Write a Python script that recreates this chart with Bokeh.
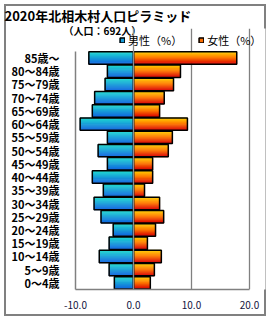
import numpy as np
from bokeh.plotting import figure
from bokeh.models import (FixedTicker, Grid, Legend, LegendItem, Title,
                          NumeralTickFormatter, Range1d)
from bokeh.embed import file_html
from bokeh.resources import INLINE

# ---- data (percent of each sex) ----
age_groups = ["0～4歳", "5～9歳", "10～14歳", "15～19歳", "20～24歳", "25～29歳",
              "30～34歳", "35～39歳", "40～44歳", "45～49歳", "50～54歳", "55～59歳",
              "60～64歳", "65～69歳", "70～74歳", "75～79歳", "80～84歳", "85歳～"]
male_pct = [3.3, 4.2, 5.9, 4.2, 3.5, 5.6, 6.8, 5.2, 7.1, 4.5, 6.1, 4.5,
            9.2, 7.1, 6.7, 4.9, 4.5, 7.7]
female_pct = [2.9, 3.6, 4.8, 2.4, 3.8, 5.2, 4.5, 1.9, 3.3, 3.3, 6.0, 6.7,
              9.3, 4.5, 5.3, 6.9, 8.1, 17.8]
x_ticks = [-10, 0, 10, 20]
title_text = "2020年北相木村人口ピラミッド"
subtitle_text = "（人口：692人）"
male_label = "男性（%）"
female_label = "女性（%）"

JP = "Noto Sans CJK JP"
n = len(age_groups)


def hex_mix(c1, c2, t):
    a = [int(c1[i:i + 2], 16) for i in (1, 3, 5)]
    b = [int(c2[i:i + 2], 16) for i in (1, 3, 5)]
    return "#%02x%02x%02x" % tuple(int(round(a[j] + (b[j] - a[j]) * t)) for j in range(3))


def male_color(t):
    return hex_mix("#22e0d0", "#1064e0", t)


def female_color(t):
    if t < 0.5:
        return hex_mix("#ffd800", "#ff7800", t / 0.5)
    return hex_mix("#ff7800", "#d80000", (t - 0.5) / 0.5)


# frame extends above the bars / right of 20 so that the legend fits inside it
p = figure(width=270, height=320, output_backend="svg", toolbar_location=None,
           x_range=Range1d(-10, 22.76), y_range=Range1d(-0.5, 19.23),
           min_border_left=75, min_border_right=5, min_border_top=27, min_border_bottom=31,
           styles={"outline": "2px solid #808080", "outline-offset": "-6px"})
p.outline_line_color = None
p.background_fill_color = "white"
p.border_fill_alpha = 0

y_idx = np.arange(n)
male_left = -np.array(male_pct)
female_right = np.array(female_pct)

bar_h = 0.94
n_strips = 12
mid_m = mid_f = None
for k in range(n_strips):
    t = (k + 0.5) / n_strips
    off = bar_h / 2 - (k + 0.5) * bar_h / n_strips
    cm = male_color(t)
    cf = female_color(t)
    rm = p.hbar(y=y_idx + off, left=male_left, right=0, height=bar_h / n_strips,
                fill_color=cm, line_color=cm, line_width=0.6)
    rf = p.hbar(y=y_idx + off, left=0, right=female_right, height=bar_h / n_strips,
                fill_color=cf, line_color=cf, line_width=0.6)
    if k == n_strips // 2:
        mid_m, mid_f = rm, rf

out_m = p.hbar(y=y_idx, left=male_left, right=0, height=bar_h,
               fill_color=None, line_color="black", line_width=1.5)
out_f = p.hbar(y=y_idx, left=0, right=female_right, height=bar_h,
               fill_color=None, line_color="black", line_width=1.5)

# axes
p.xaxis.ticker = FixedTicker(ticks=x_ticks)
p.xaxis.bounds = (-10, 20)
p.xaxis.formatter = NumeralTickFormatter(format="0.0")
p.xaxis.major_label_text_font = JP
p.xaxis.major_label_text_font_size = "10px"
p.xaxis.major_label_text_color = "#141440"
p.xaxis.major_label_standoff = 5
p.yaxis.ticker = FixedTicker(ticks=list(range(n)))
p.yaxis.bounds = (-0.5, n - 0.5)
p.yaxis.major_label_overrides = {int(i): lab for i, lab in enumerate(age_groups)}
p.yaxis.major_label_text_font = JP
p.yaxis.major_label_text_font_size = "11px"
p.yaxis.major_label_text_font_style = "bold"
p.yaxis.major_label_text_color = "black"
p.yaxis.major_label_standoff = 10
for ax in (p.xaxis, p.yaxis):
    ax.axis_line_color = "#808080"
    ax.axis_line_width = 1.5
    ax.major_tick_line_color = None
    ax.minor_tick_line_color = None

p.xgrid.ticker = FixedTicker(ticks=[10, 20])
p.xgrid.bounds = (-0.5, n - 0.5)
p.xgrid.grid_line_color = "#808080"
p.xgrid.grid_line_width = 1.3
p.ygrid.grid_line_color = None
p.add_layout(Grid(dimension=0, ticker=FixedTicker(ticks=[0]), bounds=(-0.5, n - 0.5),
                  grid_line_color="#8c8c8c", grid_line_width=1.3, level="overlay"))

legend = Legend(items=[LegendItem(label=male_label, renderers=[mid_m, out_m]),
                       LegendItem(label=female_label, renderers=[mid_f, out_f])],
                orientation="horizontal", location=(44, 241.5),
                glyph_width=6, glyph_height=6, label_height=12, label_standoff=3,
                spacing=16, padding=0, margin=0, border_line_color=None,
                background_fill_alpha=0, label_text_font=JP,
                label_text_font_size="11px", label_text_color="black")
p.add_layout(legend)

p.add_layout(Title(text=subtitle_text, align="left", offset=-12, standoff=-18,
                   text_font=JP, text_font_size="10px", text_font_style="bold",
                   text_color="black"), "above")
p.add_layout(Title(text=title_text, align="left", offset=-71, standoff=7,
                   text_font=JP, text_font_size="13px", text_font_style="bold",
                   text_color="black"), "above")

open("out.html", "w").write(file_html(p, INLINE))
